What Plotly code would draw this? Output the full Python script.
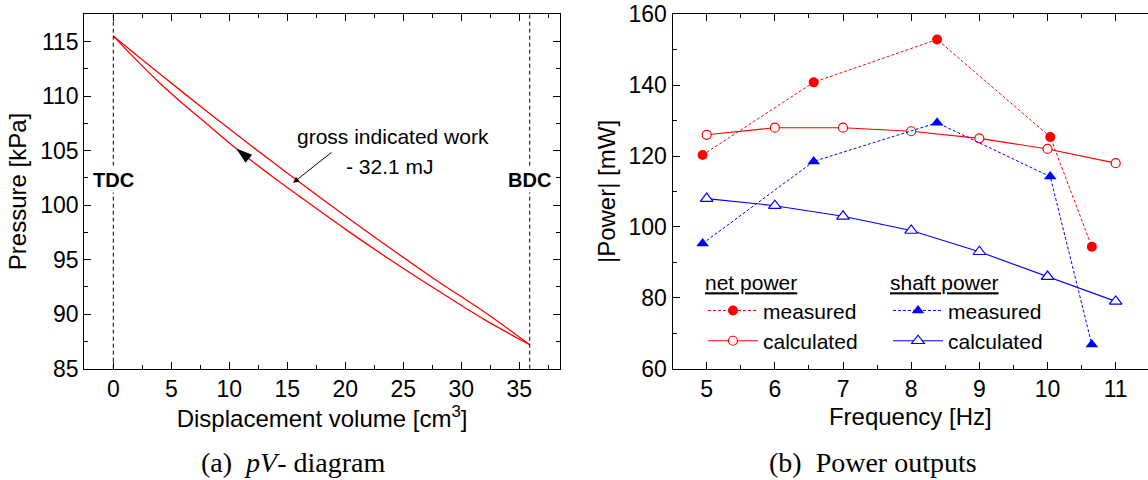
import numpy as np
import plotly.graph_objects as go

# ---- (a) pV diagram: measured pressure loop ----
volume = [0.0, 2.0, 4.0, 6.0, 8.0, 10.0, 12.0, 14.0, 16.0, 20.0, 24.0, 28.0, 32.0, 35.9]
p_upper = [115.5, 113.76, 112.04, 110.34, 108.66, 107.0, 105.36, 103.74, 102.14, 99.0, 95.95, 93.0, 90.2, 87.2]
p_lower = [115.5, 113.3, 111.2, 109.3, 107.5, 105.7, 104.0, 102.4, 100.85, 97.8, 94.9, 92.15, 89.5, 87.2]
v_tdc = volume[0]
v_bdc = volume[-1]
work_label = ["gross indicated work", "- 32.1 mJ"]

# ---- (b) power outputs vs frequency ----
freq_measured = [4.94, 6.57, 8.38, 10.04, 10.65]
net_measured = [120.3, 140.8, 152.9, 125.4, 94.4]
shaft_measured = [95.3, 118.5, 129.4, 114.2, 66.8]

freq_calculated = [5, 6, 7, 8, 9, 10, 11]
net_calculated = [126, 128, 128, 127, 125, 122, 118]
shaft_calculated = [108, 106, 103, 99, 93, 86, 79]

RED = "#ff0000"
BLUE = "#0000ff"
SANS = "Liberation Sans, Arial, sans-serif"
SERIF = "Liberation Serif, Times New Roman, serif"
W, H = 1148, 480

fig = go.Figure()

# pV loop
for branch in (p_upper, p_lower):
    fig.add_trace(go.Scatter(x=volume, y=branch, mode="lines",
                             line=dict(color=RED, width=1.3, shape="spline", smoothing=1.0),
                             xaxis="x", yaxis="y", showlegend=False))

# direction arrow on the compression branch
arrow_v = 10.6
arrow_p = float(np.interp(arrow_v, volume, p_lower))
fig.add_trace(go.Scatter(x=[arrow_v], y=[arrow_p], mode="markers",
                         marker=dict(symbol="arrow", size=17, color="black", angle=-51, line=dict(width=0)),
                         xaxis="x", yaxis="y", showlegend=False))

# power curves
fig.add_trace(go.Scatter(x=freq_measured, y=net_measured, mode="lines+markers", name="measured",
                         line=dict(color=RED, width=1, dash="3px,2px"),
                         marker=dict(symbol="circle", size=10, color=RED),
                         xaxis="x2", yaxis="y2", legend="legend"))
fig.add_trace(go.Scatter(x=freq_calculated, y=net_calculated, mode="lines+markers", name="calculated",
                         line=dict(color=RED, width=1.1),
                         marker=dict(symbol="circle", size=9, color="white", line=dict(color=RED, width=1.2)),
                         xaxis="x2", yaxis="y2", legend="legend"))
fig.add_trace(go.Scatter(x=freq_measured, y=shaft_measured, mode="lines+markers", name="measured",
                         line=dict(color=BLUE, width=1, dash="3px,2px"),
                         marker=dict(symbol="triangle-up", size=11, color=BLUE),
                         xaxis="x2", yaxis="y2", legend="legend2"))
fig.add_trace(go.Scatter(x=freq_calculated, y=shaft_calculated, mode="lines+markers", name="calculated",
                         line=dict(color=BLUE, width=1.1),
                         marker=dict(symbol="triangle-up", size=11, color="white", line=dict(color=BLUE, width=1.2)),
                         xaxis="x2", yaxis="y2", legend="legend2"))

tickfont = dict(family=SANS, size=23, color="black")
titlefont = dict(family=SANS, size=24, color="black")
axis_common = dict(showline=True, linecolor="black", linewidth=1.2, ticks="inside", ticklen=7,
                   tickwidth=1.2, tickcolor="black", showgrid=False, zeroline=False,
                   tickfont=tickfont, automargin=False)

y_dom = [1 - 368.7 / H, 1 - 14.3 / H]

legend_common = dict(xanchor="left", yanchor="top", bgcolor="rgba(0,0,0,0)",
                     font=dict(family=SANS, size=21, color="black"), itemwidth=50, tracegroupgap=0)

fig.update_layout(
    width=W, height=H, margin=dict(l=0, r=0, t=0, b=0),
    paper_bgcolor="white", plot_bgcolor="white",
    xaxis=dict(domain=[84.3 / W, 559.9 / W], range=[-2.5, 38.5], anchor="y", mirror="allticks",
               tickvals=list(range(0, 40, 5)),
               minor=dict(dtick=2.5, tick0=0, ticks="inside", ticklen=4, tickcolor="black"),
               title=dict(text="Displacement volume [cm<sup>3</sup>]", font=titlefont, standoff=6),
               **axis_common),
    yaxis=dict(domain=y_dom, range=[85, 117.5], anchor="x", mirror="allticks",
               tickvals=list(range(85, 116, 5)),
               minor=dict(dtick=2.5, tick0=85, ticks="inside", ticklen=4, tickcolor="black"),
               title=dict(text="Pressure [kPa]", font=titlefont, standoff=6),
               **axis_common),
    xaxis2=dict(domain=[672.6 / W, 1.0], range=[4.5, 4.5 + (W - 672.6) / 68.17], anchor="y2",
                mirror="allticks", tickvals=list(range(5, 12)),
                minor=dict(dtick=0.5, tick0=5, ticks="inside", ticklen=4, tickcolor="black"),
                title=dict(text="Frequency [Hz]", font=titlefont, standoff=6),
                **axis_common),
    yaxis2=dict(domain=y_dom, range=[60, 160], anchor="x2", mirror=False,
                tickvals=list(range(60, 161, 20)),
                minor=dict(dtick=10, tick0=60, ticks="inside", ticklen=4, tickcolor="black"),
                title=dict(text="|Power| [mW]", font=titlefont, standoff=6),
                **axis_common),
    yaxis3=dict(overlaying="y2", side="right", anchor="x2", range=[60, 160], showline=False,
                ticks="inside", ticklen=7, tickwidth=1.2, tickcolor="black", showticklabels=False,
                showgrid=False, zeroline=False, tickvals=list(range(60, 161, 20)),
                minor=dict(dtick=10, tick0=60, ticks="inside", ticklen=4, tickcolor="black")),
    legend=dict(x=703 / W, y=1 - 263 / H,
                title=dict(text="<u>net power</u>", font=dict(family=SANS, size=21, color="black")),
                **legend_common),
    legend2=dict(x=888 / W, y=1 - 263 / H,
                 title=dict(text="<u>shaft power</u>", font=dict(family=SANS, size=21, color="black")),
                 **legend_common),
)

# TDC / BDC markers
for v in (v_tdc, v_bdc):
    fig.add_shape(type="line", xref="x", yref="y domain", x0=v, x1=v, y0=0, y1=1,
                  line=dict(color="black", width=1, dash="4px,3px"))

fig.add_annotation(x=v_tdc, y=102.3, xref="x", yref="y", text="<b>TDC</b>", showarrow=False,
                   font=dict(family=SANS, size=20, color="black"), bgcolor="white")
fig.add_annotation(x=v_bdc, y=102.3, xref="x", yref="y", text="<b>BDC</b>", showarrow=False,
                   font=dict(family=SANS, size=20, color="black"), bgcolor="white")

# work annotation with pointer to the loop
fig.add_annotation(x=24.1, y=106.28, xref="x", yref="y", text=work_label[0], showarrow=False,
                   xanchor="center", yanchor="middle", font=dict(family=SANS, size=21, color="black"))
fig.add_annotation(x=23.85, y=103.53, xref="x", yref="y", text=work_label[1], showarrow=False,
                   xanchor="center", yanchor="middle", font=dict(family=SANS, size=21, color="black"))
fig.add_annotation(x=15.5, y=102.05, ax=18.94, ay=104.95, xref="x", yref="y", axref="x", ayref="y",
                   text="", showarrow=True, arrowhead=2, arrowsize=1.2, arrowwidth=1, arrowcolor="black")

# sub-figure captions
fig.add_annotation(x=292.7 / W, y=1 - 462 / H, xref="paper", yref="paper", xanchor="center", yanchor="middle",
                   text="(a)\u00a0\u00a0<i>pV</i>- diagram", showarrow=False,
                   font=dict(family=SERIF, size=28, color="black"))
fig.add_annotation(x=873 / W, y=1 - 462 / H, xref="paper", yref="paper", xanchor="center", yanchor="middle",
                   text="(b)\u00a0\u00a0Power outputs", showarrow=False,
                   font=dict(family=SERIF, size=28, color="black"))

fig.write_html("out.html")
